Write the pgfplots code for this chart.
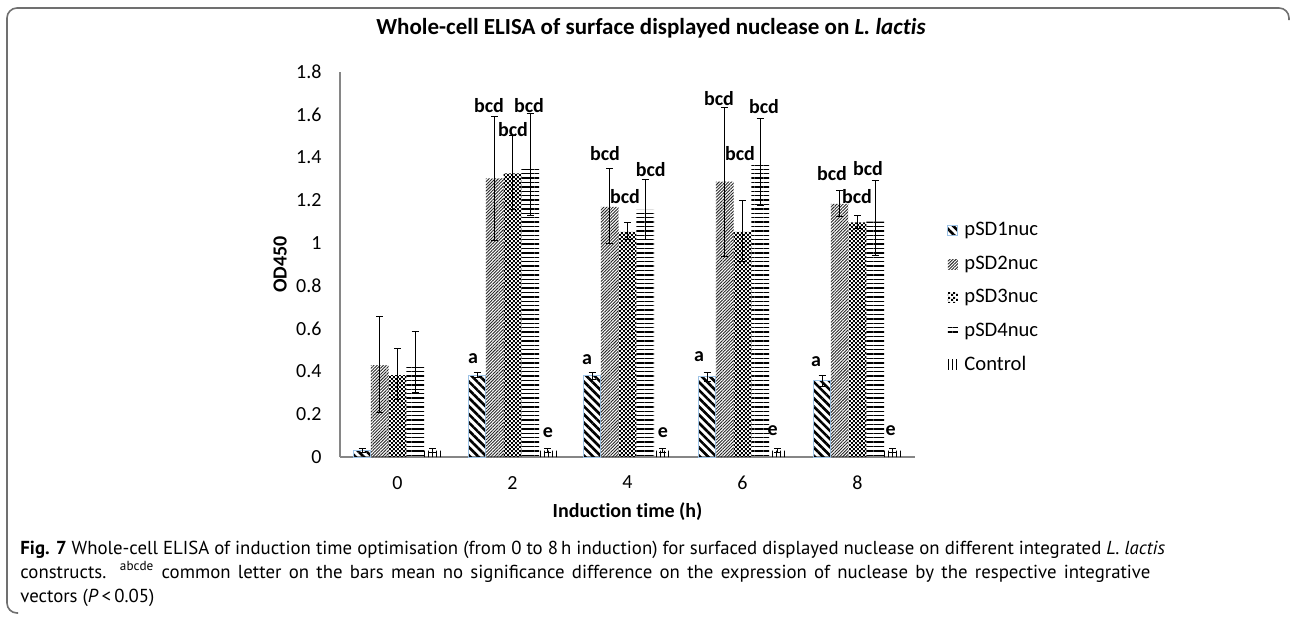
\documentclass[border=0pt]{standalone}
\usepackage{fontspec}
\setmainfont[Ligatures=NoCommon]{Carlito}
\newfontfamily\capfont{PT Sans}
\usepackage{pgfplots}
\pgfplotsset{compat=1.18}
\usepackage{pgfplotstable}
\usetikzlibrary{patterns.meta}
\definecolor{axisgray}{HTML}{868686}
\definecolor{edgeblue}{HTML}{9DC3E6}
\definecolor{framegray}{HTML}{707070}

\pgfdeclarepattern{
  name=checker,
  type=uncolored,
  bottom left={\pgfpoint{0pt}{0pt}},
  top right={\pgfpoint{2.2pt}{2.2pt}},
  tile size={\pgfpoint{2.2pt}{2.2pt}},
  code={
    \pgfpathrectangle{\pgfpoint{0pt}{0pt}}{\pgfpoint{1.1pt}{1.1pt}}
    \pgfpathrectangle{\pgfpoint{1.1pt}{1.1pt}}{\pgfpoint{1.1pt}{1.1pt}}
    \pgfusepath{fill}
  }
}

\pgfplotstableread{
x y ep em
0 0.030 0.010 0.010
2 0.383 0.011 0.011
4 0.379 0.015 0.015
6 0.375 0.022 0.022
8 0.357 0.025 0.025
}\pSDone
\pgfplotstableread{
x y ep em
0 0.430 0.226 0.221
2 1.303 0.291 0.289
4 1.170 0.180 0.174
6 1.287 0.346 0.350
8 1.183 0.061 0.060
}\pSDtwo
\pgfplotstableread{
x y ep em
0 0.383 0.125 0.113
2 1.326 0.179 0.168
4 1.053 0.042 0.035
6 1.053 0.145 0.137
8 1.097 0.031 0.027
}\pSDthree
\pgfplotstableread{
x y ep em
0 0.422 0.164 0.122
2 1.360 0.247 0.229
4 1.155 0.143 0.137
6 1.365 0.218 0.187
8 1.100 0.195 0.156
}\pSDfour
\pgfplotstableread{
x y ep em
0 0.030 0.010 0.010
2 0.030 0.010 0.010
4 0.030 0.010 0.010
6 0.030 0.010 0.010
8 0.030 0.010 0.010
}\control

\begin{document}
\begin{tikzpicture}[x=0.5pt,y=-0.5pt]
\useasboundingbox (0,0) rectangle (1292,618);
\draw[framegray, line width=0.8pt, rounded corners=5pt] (18,613) -- (7,613) -- (7,8) -- (1289,8) -- (1289,20);
\node[font=\bfseries\fontsize{11.5}{13}\selectfont] at (651,28) {Whole-cell ELISA of surface displayed nuclease on \textit{L. lactis}};

\begin{axis}[
  at={(170pt,-228.5pt)}, anchor=south west,
  scale only axis, width=287.5pt, height=192.5pt,
  xmin=-1, xmax=9, ymin=0, ymax=1.8,
  axis lines*=left,
  axis line style={axisgray, line width=0.6pt, -},
  major tick length=0pt,
  xtick={0,2,4,6,8}, xticklabels={0,2,4,6,8},
  ytick={0,0.2,0.4,0.6,0.8,1,1.2,1.4,1.6,1.8},
  yticklabels={0,0.2,0.4,0.6,0.8,1,1.2,1.4,1.6,1.8},
  tick label style={font=\fontsize{10}{12}\selectfont},
  yticklabel style={xshift=-5.7pt},
  xticklabel style={yshift=-6pt},
  xlabel={\textbf{Induction time (h)}},
  ylabel={\textbf{OD450}},
  label style={font=\fontsize{10}{12}\selectfont},
  xlabel style={at={(axis description cs:0.5,-0.142)}, anchor=center},
  ylabel style={at={(axis description cs:-0.104,0.5)}, anchor=center},
  ybar, bar width=0.308,
  error bars/y dir=both, error bars/y explicit,
  error bars/error bar style={line width=0.5pt, black},
  error bars/error mark options={rotate=90, mark size=1.75pt, line width=0.5pt, black},
  legend image code/.code={\path[#1] (0pt,-2.5pt) rectangle (5pt,2.5pt);},
  legend style={draw=none, fill=none, inner sep=0pt, row sep=8.5pt,
    nodes={inner sep=0pt, anchor=west},
    font=\fontsize{10.3}{12}\selectfont,
    at={(1.0557,0.413)}, anchor=west,
    /tikz/every odd column/.append style={column sep=3pt}},
  legend cell align=left,
  clip=false,
]
\addplot[bar shift=-0.616, draw=edgeblue, line width=0.5pt,
  pattern={Lines[angle=-45,distance=2.9pt,line width=1.3pt]}, pattern color=black]
  table[x=x,y=y,y error plus=ep,y error minus=em]{\pSDone};
\addplot[bar shift=-0.308, draw=none,
  pattern={Lines[angle=45,distance=1.1pt,line width=0.45pt]}, pattern color=black!85]
  table[x=x,y=y,y error plus=ep,y error minus=em]{\pSDtwo};
\addplot[bar shift=0, draw=none,
  pattern=checker, pattern color=black]
  table[x=x,y=y,y error plus=ep,y error minus=em]{\pSDthree};
\addplot[bar shift=0.308, draw=none,
  pattern={Lines[angle=0,distance=2.2pt,line width=0.7pt]}, pattern color=black]
  table[x=x,y=y,y error plus=ep,y error minus=em]{\pSDfour};
\addplot[bar shift=0.616, draw=none,
  pattern={Lines[angle=90,distance=2pt,line width=0.5pt]}, pattern color=black]
  table[x=x,y=y,y error plus=ep,y error minus=em]{\control};
\legend{pSD1nuc,pSD2nuc,pSD3nuc,pSD4nuc,Control}

\tikzset{lab/.style={font=\bfseries\fontsize{10}{12}\selectfont, inner sep=0pt}}
\node[lab] at (axis cs:1.313,0.458) {a};
\node[lab] at (axis cs:1.591,1.645) {bcd};
\node[lab] at (axis cs:2.009,1.529) {bcd};
\node[lab] at (axis cs:2.287,1.645) {bcd};
\node[lab] at (axis cs:2.617,0.114) {e};
\node[lab] at (axis cs:3.296,0.453) {a};
\node[lab] at (axis cs:3.609,1.420) {bcd};
\node[lab] at (axis cs:3.957,1.217) {bcd};
\node[lab] at (axis cs:4.403,1.345) {bcd};
\node[lab] at (axis cs:4.617,0.114) {e};
\node[lab] at (axis cs:5.243,0.469) {a};
\node[lab] at (axis cs:5.591,1.677) {bcd};
\node[lab] at (axis cs:5.957,1.420) {bcd};
\node[lab] at (axis cs:6.374,1.640) {bcd};
\node[lab] at (axis cs:6.525,0.121) {e};
\node[lab] at (axis cs:7.278,0.446) {a};
\node[lab] at (axis cs:7.557,1.326) {bcd};
\node[lab] at (axis cs:7.991,1.217) {bcd};
\node[lab] at (axis cs:8.183,1.350) {bcd};
\node[lab] at (axis cs:8.577,0.121) {e};
\end{axis}

\begin{scope}[every node/.style={anchor=base west, inner sep=0pt, font=\capfont\fontsize{9.4}{11}\selectfont}]
\node at (20,554) {\textbf{Fig. 7} Whole-cell ELISA of induction time optimisation (from 0 to 8\,h induction) for surfaced displayed nuclease on different integrated \textit{L. lactis}};
\node at (20,578) {\makebox[565pt][s]{constructs. \textsuperscript{abcde} common letter on the bars mean no significance difference on the expression of nuclease by the respective integrative}};
\node at (20,602) {vectors (\textit{P}\,<\,0.05)};
\end{scope}
\end{tikzpicture}
\end{document}
